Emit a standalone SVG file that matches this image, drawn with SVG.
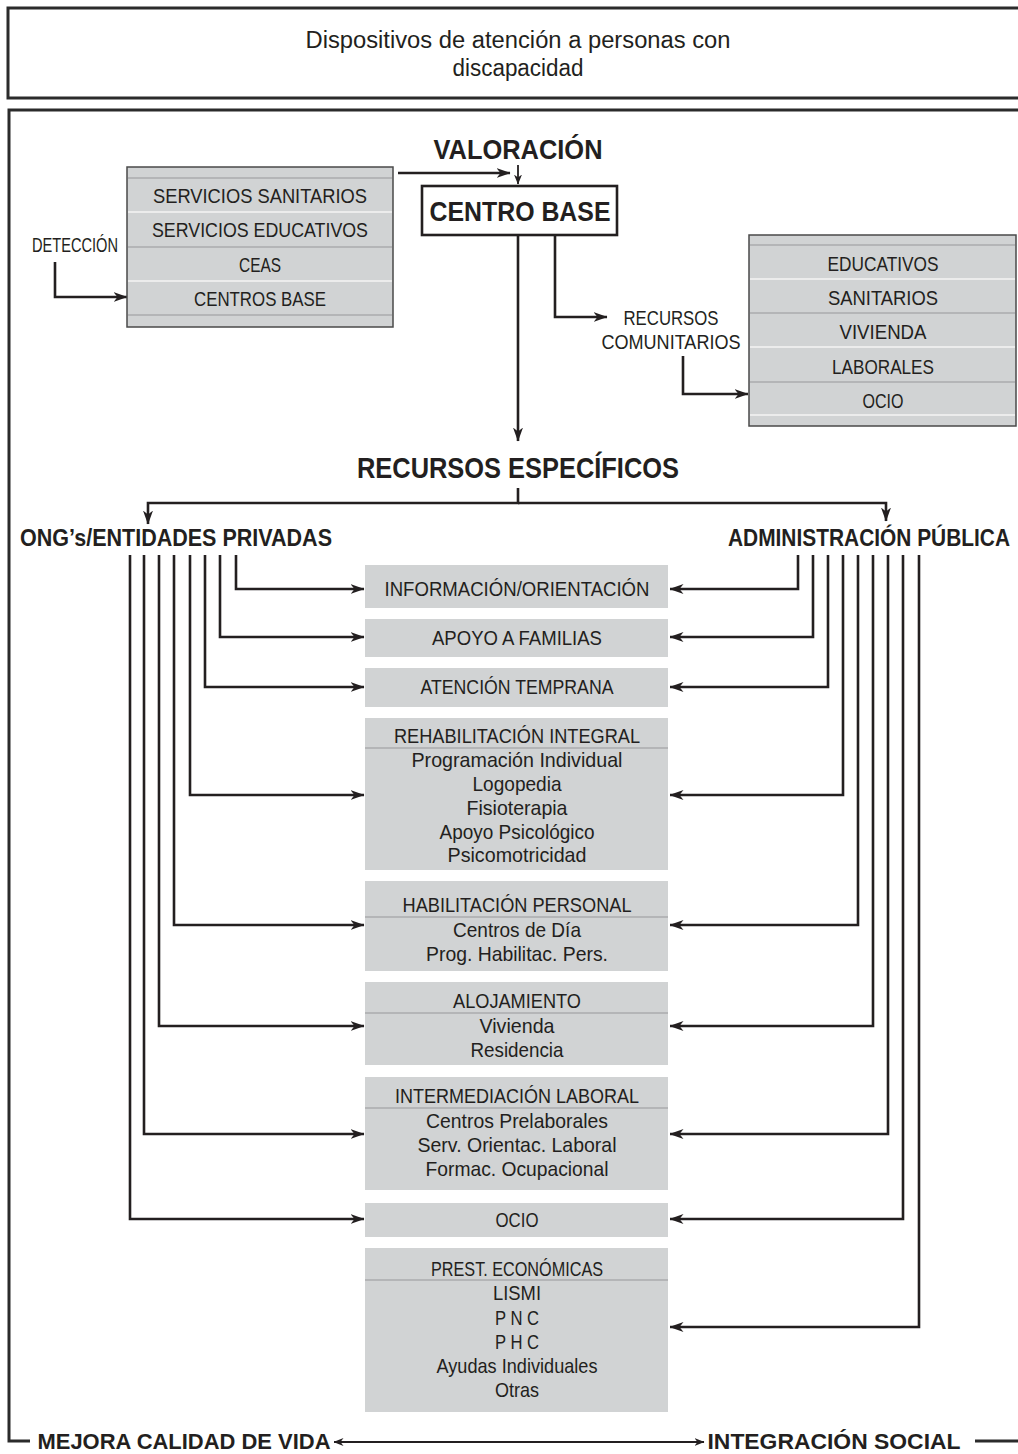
<svg xmlns="http://www.w3.org/2000/svg" width="1018" height="1454" viewBox="0 0 1018 1454">
<style>
text{font-family:"Liberation Sans",Arial,sans-serif;fill:#231f20;text-anchor:middle}
.t{font-size:21px}
.b{font-weight:bold}
.frame{fill:none;stroke:#2b2b2b;stroke-width:3}
.c{fill:none;stroke:#231f20;stroke-width:2.6}
.cs{fill:none;stroke:#231f20;stroke-width:1.8}
.g{fill:#d1d3d4}
.list{fill:#d1d3d4;stroke:#4a4a4a;stroke-width:1.5}
.lt{stroke:#ececec;stroke-width:2}
.dk{stroke:#b4b5b7;stroke-width:2}
</style>
<defs>
<marker id="ah" viewBox="0 0 14 10" refX="13.5" refY="5" markerWidth="14" markerHeight="10" orient="auto-start-reverse" markerUnits="userSpaceOnUse"><path d="M0,0 L14,5 L0,10 L4,5 z" fill="#231f20"/></marker>
<marker id="as" viewBox="0 0 10 8" refX="9.5" refY="4" markerWidth="10" markerHeight="8" orient="auto-start-reverse" markerUnits="userSpaceOnUse"><path d="M0,0 L10,4 L0,8 L3,4 z" fill="#231f20"/></marker>
</defs>

<g id="frames">
<rect class="frame" x="8" y="8" width="1020" height="90"/>
<path class="frame" d="M1020,110 H9 V1441 H30"/>
<path class="frame" d="M975,1441 H1020"/>
</g>

<g id="title">
<text x="518" y="48" style="font-size:23px" textLength="425" lengthAdjust="spacingAndGlyphs">Dispositivos de atención a personas con</text>
<text x="518" y="76" style="font-size:23px" textLength="131" lengthAdjust="spacingAndGlyphs">discapacidad</text>
</g>

<g id="connectors">
<path class="c" d="M55,262 V297 H127" marker-end="url(#ah)"/>
<path class="c" d="M398,173 H510" marker-end="url(#ah)"/>
<path class="cs" d="M518,165 V184" marker-end="url(#as)"/>
<path class="c" d="M518,236 V441" marker-end="url(#ah)"/>
<path class="c" d="M555,236 V317 H607" marker-end="url(#ah)"/>
<path class="c" d="M683,356 V394 H748" marker-end="url(#ah)"/>
<path class="c" d="M518,488 V503 H148 V524" marker-end="url(#ah)"/>
<path class="c" d="M518,503 H886 V521" marker-end="url(#ah)"/>
<path class="c" d="M236,555 V589 H364" marker-end="url(#ah)"/>
<path class="c" d="M220,555 V637 H364" marker-end="url(#ah)"/>
<path class="c" d="M205,555 V687 H364" marker-end="url(#ah)"/>
<path class="c" d="M190,555 V795 H364" marker-end="url(#ah)"/>
<path class="c" d="M174,555 V925 H364" marker-end="url(#ah)"/>
<path class="c" d="M159,555 V1026 H364" marker-end="url(#ah)"/>
<path class="c" d="M144,555 V1134 H364" marker-end="url(#ah)"/>
<path class="c" d="M130,555 V1219 H364" marker-end="url(#ah)"/>
<path class="c" d="M798,555 V589 H670" marker-end="url(#ah)"/>
<path class="c" d="M813,555 V637 H670" marker-end="url(#ah)"/>
<path class="c" d="M828,555 V687 H670" marker-end="url(#ah)"/>
<path class="c" d="M843,555 V795 H670" marker-end="url(#ah)"/>
<path class="c" d="M858,555 V925 H670" marker-end="url(#ah)"/>
<path class="c" d="M873,555 V1026 H670" marker-end="url(#ah)"/>
<path class="c" d="M888,555 V1134 H670" marker-end="url(#ah)"/>
<path class="c" d="M903,555 V1219 H670" marker-end="url(#ah)"/>
<path class="c" d="M919,555 V1327 H670" marker-end="url(#ah)"/>
<path class="cs" d="M334,1442 H704" marker-start="url(#as)" marker-end="url(#as)"/>
</g>

<g id="detection-label">
<text class="t" x="75" y="252" textLength="86" lengthAdjust="spacingAndGlyphs">DETECCIÓN</text>
</g>

<g id="detection-list">
<rect class="list" x="127" y="167" width="266" height="160"/>
<line class="dk" x1="128" y1="178" x2="392" y2="178"/>
<line class="lt" x1="128" y1="212" x2="392" y2="212"/>
<line class="dk" x1="128" y1="247" x2="392" y2="247"/>
<line class="lt" x1="128" y1="281" x2="392" y2="281"/>
<line class="dk" x1="128" y1="315" x2="392" y2="315"/>
<text class="t" x="260" y="203" textLength="214" lengthAdjust="spacingAndGlyphs">SERVICIOS SANITARIOS</text>
<text class="t" x="260" y="237" textLength="216" lengthAdjust="spacingAndGlyphs">SERVICIOS EDUCATIVOS</text>
<text class="t" x="260" y="272" textLength="42" lengthAdjust="spacingAndGlyphs">CEAS</text>
<text class="t" x="260" y="306" textLength="132" lengthAdjust="spacingAndGlyphs">CENTROS BASE</text>
</g>

<g id="valoracion">
<text class="b" x="518" y="159" style="font-size:28px" textLength="169" lengthAdjust="spacingAndGlyphs">VALORACIÓN</text>
</g>

<g id="centro-base">
<rect x="422" y="186" width="195" height="49" fill="#fff" stroke="#231f20" stroke-width="2.6"/>
<text class="b" x="520" y="221" style="font-size:28px" textLength="181" lengthAdjust="spacingAndGlyphs">CENTRO BASE</text>
</g>

<g id="recursos-comunitarios">
<text class="t" x="671" y="325" textLength="95" lengthAdjust="spacingAndGlyphs">RECURSOS</text>
<text class="t" x="671" y="349" textLength="139" lengthAdjust="spacingAndGlyphs">COMUNITARIOS</text>
</g>

<g id="comunitarios-list">
<rect class="list" x="749" y="235" width="267" height="191"/>
<line class="dk" x1="750" y1="245" x2="1015" y2="245"/>
<line class="lt" x1="750" y1="279" x2="1015" y2="279"/>
<line class="dk" x1="750" y1="313" x2="1015" y2="313"/>
<line class="lt" x1="750" y1="347" x2="1015" y2="347"/>
<line class="dk" x1="750" y1="382" x2="1015" y2="382"/>
<line class="lt" x1="750" y1="415" x2="1015" y2="415"/>
<text class="t" x="883" y="271" textLength="111" lengthAdjust="spacingAndGlyphs">EDUCATIVOS</text>
<text class="t" x="883" y="305" textLength="110" lengthAdjust="spacingAndGlyphs">SANITARIOS</text>
<text class="t" x="883" y="339" textLength="87" lengthAdjust="spacingAndGlyphs">VIVIENDA</text>
<text class="t" x="883" y="374" textLength="102" lengthAdjust="spacingAndGlyphs">LABORALES</text>
<text class="t" x="883" y="408" textLength="41" lengthAdjust="spacingAndGlyphs">OCIO</text>
</g>

<g id="recursos-especificos">
<text class="b" x="518" y="478" style="font-size:30px" textLength="322" lengthAdjust="spacingAndGlyphs">RECURSOS ESPECÍFICOS</text>
</g>

<g id="ong">
<text class="b" x="176" y="546" style="font-size:24px" textLength="312" lengthAdjust="spacingAndGlyphs">ONG’s/ENTIDADES PRIVADAS</text>
</g>

<g id="administracion">
<text class="b" x="869" y="546" style="font-size:24px" textLength="282" lengthAdjust="spacingAndGlyphs">ADMINISTRACIÓN PÚBLICA</text>
</g>

<g id="informacion">
<rect class="g" x="365" y="565" width="303" height="43"/>
<text class="t" x="517" y="596" textLength="265" lengthAdjust="spacingAndGlyphs">INFORMACIÓN/ORIENTACIÓN</text>
</g>

<g id="apoyo-familias">
<rect class="g" x="365" y="619" width="303" height="38"/>
<text class="t" x="517" y="645" textLength="170" lengthAdjust="spacingAndGlyphs">APOYO A FAMILIAS</text>
</g>

<g id="atencion-temprana">
<rect class="g" x="365" y="668" width="303" height="39"/>
<text class="t" x="517" y="694" textLength="193" lengthAdjust="spacingAndGlyphs">ATENCIÓN TEMPRANA</text>
</g>

<g id="rehabilitacion">
<rect class="g" x="365" y="718" width="303" height="152"/>
<line class="dk" x1="365" y1="748" x2="668" y2="748"/>
<text class="t" x="517" y="743" textLength="246" lengthAdjust="spacingAndGlyphs">REHABILITACIÓN INTEGRAL</text>
<text class="t" x="517" y="767" textLength="211" lengthAdjust="spacingAndGlyphs">Programación Individual</text>
<text class="t" x="517" y="791" textLength="89" lengthAdjust="spacingAndGlyphs">Logopedia</text>
<text class="t" x="517" y="815" textLength="101" lengthAdjust="spacingAndGlyphs">Fisioterapia</text>
<text class="t" x="517" y="839" textLength="155" lengthAdjust="spacingAndGlyphs">Apoyo Psicológico</text>
<text class="t" x="517" y="862" textLength="139" lengthAdjust="spacingAndGlyphs">Psicomotricidad</text>
</g>

<g id="habilitacion">
<rect class="g" x="365" y="881" width="303" height="90"/>
<line class="dk" x1="365" y1="917" x2="668" y2="917"/>
<text class="t" x="517" y="912" textLength="229" lengthAdjust="spacingAndGlyphs">HABILITACIÓN PERSONAL</text>
<text class="t" x="517" y="937" textLength="128" lengthAdjust="spacingAndGlyphs">Centros de Día</text>
<text class="t" x="517" y="961" textLength="182" lengthAdjust="spacingAndGlyphs">Prog. Habilitac. Pers.</text>
</g>

<g id="alojamiento">
<rect class="g" x="365" y="982" width="303" height="83"/>
<line class="dk" x1="365" y1="1013" x2="668" y2="1013"/>
<text class="t" x="517" y="1008" textLength="128" lengthAdjust="spacingAndGlyphs">ALOJAMIENTO</text>
<text class="t" x="517" y="1033" textLength="75" lengthAdjust="spacingAndGlyphs">Vivienda</text>
<text class="t" x="517" y="1057" textLength="93" lengthAdjust="spacingAndGlyphs">Residencia</text>
</g>

<g id="intermediacion">
<rect class="g" x="365" y="1077" width="303" height="113"/>
<line class="dk" x1="365" y1="1108" x2="668" y2="1108"/>
<text class="t" x="517" y="1103" textLength="244" lengthAdjust="spacingAndGlyphs">INTERMEDIACIÓN LABORAL</text>
<text class="t" x="517" y="1128" textLength="182" lengthAdjust="spacingAndGlyphs">Centros Prelaborales</text>
<text class="t" x="517" y="1152" textLength="199" lengthAdjust="spacingAndGlyphs">Serv. Orientac. Laboral</text>
<text class="t" x="517" y="1176" textLength="183" lengthAdjust="spacingAndGlyphs">Formac. Ocupacional</text>
</g>

<g id="ocio">
<rect class="g" x="365" y="1203" width="303" height="34"/>
<text class="t" x="517" y="1227" textLength="43" lengthAdjust="spacingAndGlyphs">OCIO</text>
</g>

<g id="prestaciones">
<rect class="g" x="365" y="1248" width="303" height="164"/>
<line class="dk" x1="365" y1="1280" x2="668" y2="1280"/>
<text class="t" x="517" y="1276" textLength="172" lengthAdjust="spacingAndGlyphs">PREST. ECONÓMICAS</text>
<text class="t" x="517" y="1300" textLength="48" lengthAdjust="spacingAndGlyphs">LISMI</text>
<text class="t" x="517" y="1325" textLength="44" lengthAdjust="spacingAndGlyphs">P N C</text>
<text class="t" x="517" y="1349" textLength="44" lengthAdjust="spacingAndGlyphs">P H C</text>
<text class="t" x="517" y="1373" textLength="161" lengthAdjust="spacingAndGlyphs">Ayudas Individuales</text>
<text class="t" x="517" y="1397" textLength="44" lengthAdjust="spacingAndGlyphs">Otras</text>
</g>

<g id="mejora">
<text class="b" x="184" y="1449" style="font-size:22px" textLength="293" lengthAdjust="spacingAndGlyphs">MEJORA CALIDAD DE VIDA</text>
</g>

<g id="integracion">
<text class="b" x="834" y="1449" style="font-size:22px" textLength="253" lengthAdjust="spacingAndGlyphs">INTEGRACIÓN SOCIAL</text>
</g>
</svg>
